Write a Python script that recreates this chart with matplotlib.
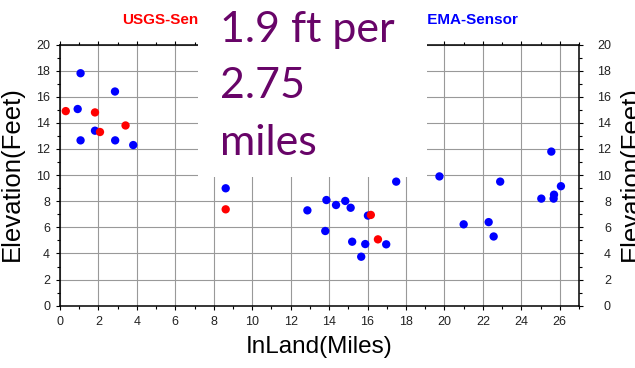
import matplotlib
matplotlib.use("Agg")
import matplotlib.pyplot as plt
import matplotlib.transforms as mtransforms
from matplotlib.patches import Rectangle
from matplotlib.ticker import MultipleLocator

# USGS sensors (red)
usgs_x = [0.30, 1.82, 2.08, 3.41, 8.62, 16.17, 16.54]
usgs_y = [14.9, 14.8, 13.3, 13.8, 7.38, 6.95, 5.08]

# FEMA sensors (blue)
fema_x = [0.92, 1.07, 1.07, 1.82, 2.86, 2.87, 3.81, 8.62, 12.87, 13.8,
          13.86, 14.36, 14.84, 15.12, 15.2, 15.67, 15.88, 16.02, 16.97, 17.49,
          19.74, 21.0, 22.3, 22.56, 22.9, 25.04, 25.56, 25.68, 25.7, 26.06]
fema_y = [15.06, 17.8, 12.66, 13.4, 16.4, 12.66, 12.3, 8.99, 7.3, 5.72,
          8.09, 7.71, 8.02, 7.5, 4.9, 3.75, 4.72, 6.9, 4.7, 9.5,
          9.9, 6.23, 6.4, 5.3, 9.5, 8.2, 11.8, 8.2, 8.5, 9.15]

note_lines = ["1.9 ft per", "2.75", "miles"]

W, H = 635, 368
fig = plt.figure(figsize=(W / 100, H / 100), dpi=100)
ax = fig.add_axes([60 / W, 1 - 305.7 / H, (579 - 60) / W, (305.7 - 44.5) / H])

ax.scatter(fema_x, fema_y, s=36, color="#0000ff", edgecolors="none", zorder=3)
ax.scatter(usgs_x, usgs_y, s=36, color="#ff0000", edgecolors="none", zorder=4)

ax.set_xlim(0, 27)
ax.set_ylim(0, 20)
ax.xaxis.set_major_locator(MultipleLocator(2))
ax.xaxis.set_minor_locator(MultipleLocator(1))
ax.yaxis.set_major_locator(MultipleLocator(2))
ax.yaxis.set_minor_locator(MultipleLocator(1))
ax.grid(True, which="major", color="0.6", lw=0.8)
ax.set_axisbelow(True)

font = "Liberation Sans"
ax.tick_params(which="both", direction="out", top=True, right=True,
               labelright=True, colors="black", width=0.8)
ax.tick_params(which="major", length=3.2, labelsize=9, pad=4)
ax.tick_params(which="minor", length=2)
for lab in ax.get_xticklabels() + ax.get_yticklabels():
    lab.set_fontfamily(font)
    lab.set_color("#222222")

# right labels are right-aligned near x=605px
offset = mtransforms.ScaledTranslation(22 / 100, 0, fig.dpi_scale_trans)
for t in ax.yaxis.get_major_ticks():
    t.label2.set_horizontalalignment("right")
    t.label2.set_fontfamily(font)
    t.label2.set_color("#222222")
    t.label2.set_transform(t.label2.get_transform() + offset)

for sp in ax.spines.values():
    sp.set_linewidth(1.1)

ax.set_xlabel("InLand(Miles)", fontsize=17.5, fontfamily=font, labelpad=6)
fig.text(24 / W, 1 - 174 / H, "Elevation(Feet)", rotation=90, fontsize=18.5,
         fontfamily=font, ha="right", va="center")
fig.text(619 / W, 1 - 174 / H, "Elevation(Feet)", rotation=90, fontsize=18.5,
         fontfamily=font, ha="left", va="center")

fig.text(122 / W, 1 - 24 / H, "USGS-Sensor", color="#ff0000", fontsize=11,
         fontweight="bold", fontfamily=font, ha="left", va="baseline")
fig.text(518 / W, 1 - 24 / H, "FEMA-Sensor", color="#0000ff", fontsize=11,
         fontweight="bold", fontfamily=font, ha="right", va="baseline")

# white note box on top
fig.patches.append(Rectangle((198 / W, 1 - 177 / H), (427 - 198) / W, 177 / H,
                             transform=fig.transFigure, facecolor="white",
                             edgecolor="none", zorder=10))
for line, base in zip(note_lines, [42, 98, 155]):
    fig.text(220 / W, 1 - base / H, line, color="#680468", fontsize=31,
             fontfamily="Lato", ha="left", va="baseline", zorder=11)

fig.savefig("out.png", dpi=100)
